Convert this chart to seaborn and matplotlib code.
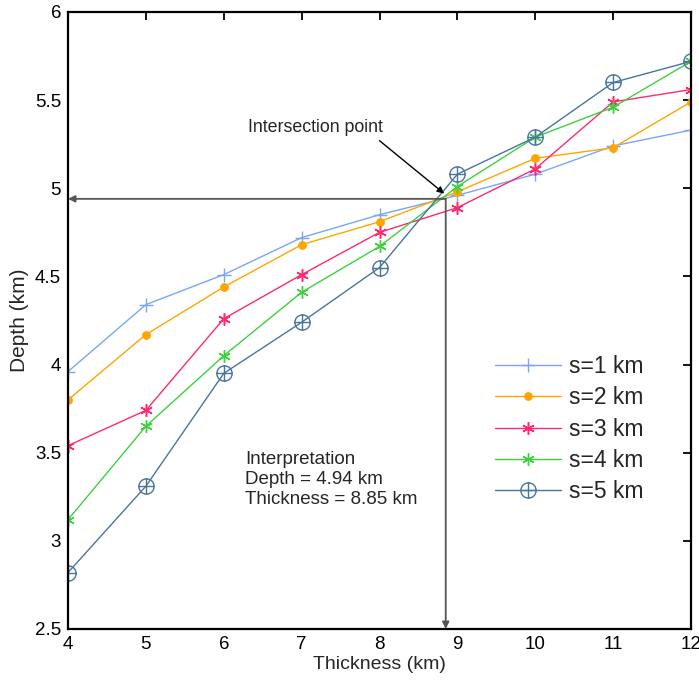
import numpy as np
import pandas as pd
import matplotlib
matplotlib.use("Agg")
import matplotlib.pyplot as plt
from matplotlib.path import Path
import seaborn as sns

# Thickness axis (km)
thickness = [4, 5, 6, 7, 8, 9, 10, 11, 12]

# Depth curves (km) for each source spacing s
depth_s1 = [3.96, 4.34, 4.51, 4.72, 4.85, 4.96, 5.08, 5.24, 5.33]
depth_s2 = [3.80, 4.17, 4.44, 4.68, 4.81, 4.98, 5.17, 5.23, 5.49]
depth_s3 = [3.54, 3.74, 4.26, 4.51, 4.75, 4.89, 5.11, 5.49, 5.56]
depth_s4 = [3.12, 3.65, 4.05, 4.41, 4.67, 5.01, 5.29, 5.46, 5.72]
depth_s5 = [2.82, 3.31, 3.95, 4.24, 4.55, 5.08, 5.29, 5.60, 5.72]

series_labels = ["s=1 km", "s=2 km", "s=3 km", "s=4 km", "s=5 km"]

# Interpreted intersection
interp_depth = 4.94
interp_thickness = 8.85

x_ticks = [4, 5, 6, 7, 8, 9, 10, 11, 12]
y_ticks = [2.5, 3, 3.5, 4, 4.5, 5, 5.5, 6]

sns.set_style("white")
plt.rcParams["font.family"] = ["Liberation Sans", "DejaVu Sans"]

# Circle with a cross inside
circle_plus = Path.make_compound_path(
    Path.unit_circle(),
    Path([[-1.0, 0.0], [1.0, 0.0]], [Path.MOVETO, Path.LINETO]),
    Path([[0.0, -1.0], [0.0, 1.0]], [Path.MOVETO, Path.LINETO]),
)

fig = plt.figure(figsize=(6.99, 6.85), dpi=100)
ax = fig.add_axes([0.0973, 0.0818, 0.8913, 0.9007])

styles = [
    dict(color="#7aa6f5", marker="+", ms=10, mew=1.0, fill=False),
    dict(color="#ffa500", marker="o", ms=5.5, mew=0.8, fill=True),
    dict(color="#ff2a6e", marker=(6, 2, 0), ms=9, mew=1.1, fill=False),
    dict(color="#3ed13e", marker=(6, 2, 0), ms=9, mew=1.0, fill=False),
    dict(color="#4a74a0", marker=circle_plus, ms=11, mew=1.0, fill=False),
]
all_depths = [depth_s1, depth_s2, depth_s3, depth_s4, depth_s5]

for label, depths, st in zip(series_labels, all_depths, styles):
    df = pd.DataFrame({"Thickness": thickness, "Depth": depths})
    sns.lineplot(data=df, x="Thickness", y="Depth", ax=ax, label=label,
                 color=st["color"], marker=st["marker"], markersize=st["ms"],
                 markeredgewidth=st["mew"], markeredgecolor=st["color"],
                 markerfacecolor=st["color"] if st["fill"] else "none",
                 linewidth=1.0, estimator=None, sort=False)

# Interpretation arrows to the axes
arrow_kw = dict(arrowstyle="-|>", color="#555555", lw=1.3,
                mutation_scale=10, shrinkA=0, shrinkB=0)
ax.annotate("", xy=(4.0, interp_depth), xytext=(interp_thickness, interp_depth),
            arrowprops=arrow_kw)
ax.annotate("", xy=(interp_thickness, 2.5), xytext=(interp_thickness, interp_depth),
            arrowprops=arrow_kw)

# Pointer to the intersection
ax.text(6.31, 5.345, "Intersection point", fontsize=12.8, ha="left", va="center")
ax.annotate("", xy=(interp_thickness - 0.02, interp_depth + 0.03),
            xytext=(8.0, 5.27),
            arrowprops=dict(arrowstyle="-|>", color="black", lw=1.0,
                            mutation_scale=10, shrinkA=0, shrinkB=0))

ax.text(6.27, 3.51,
        "Interpretation\nDepth = %.2f km\nThickness = %.2f km" % (interp_depth, interp_thickness),
        fontsize=13.5, ha="left", va="top", linespacing=1.25)

ax.set_xlim(4, 12)
ax.set_ylim(2.5, 6)
ax.set_xticks(x_ticks)
ax.set_yticks(y_ticks)
ax.set_xticklabels(["%g" % v for v in x_ticks])
ax.set_yticklabels(["%g" % v for v in y_ticks])
ax.set_xlabel("Thickness (km)", fontsize=14, labelpad=2)
ax.set_ylabel("Depth (km)", fontsize=15, labelpad=4)
ax.tick_params(axis="both", which="major", direction="in", length=6, width=1.3,
               labelsize=13.5, top=True, right=True, pad=5, colors="black")

for sp in ax.spines.values():
    sp.set_visible(True)
    sp.set_color("black")
    sp.set_linewidth(1.6)

leg = ax.legend(loc="upper left", bbox_to_anchor=(0.685, 0.444), frameon=False,
                fontsize=16.5, handlelength=2.9, handletextpad=0.35, labelspacing=0.36,
                borderaxespad=0, borderpad=0)

fig.savefig("out.png", dpi=100)
